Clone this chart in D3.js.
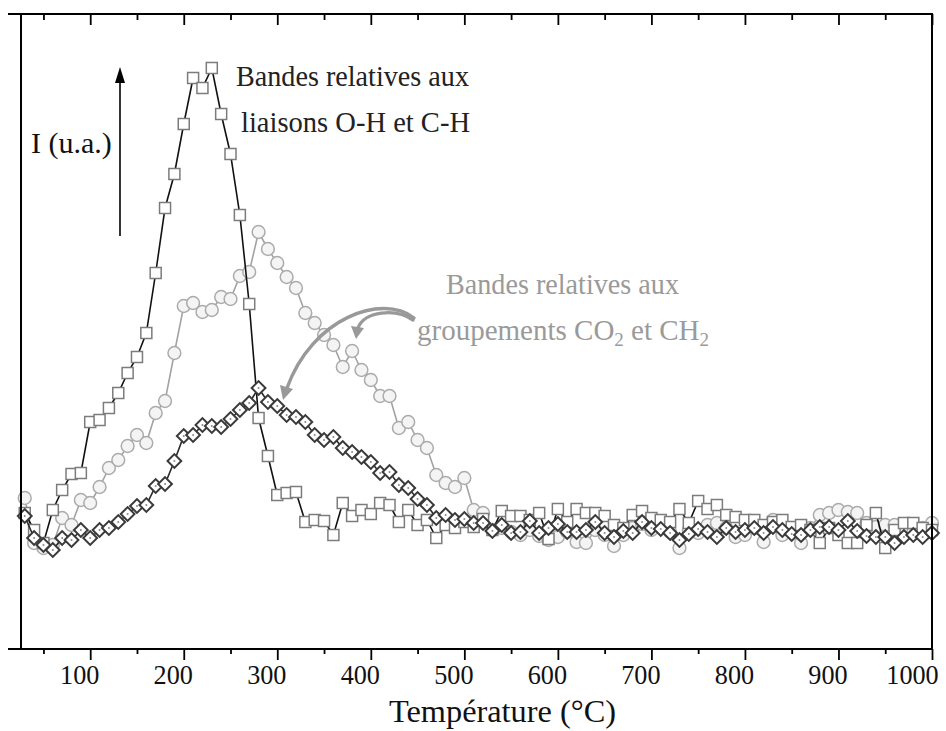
<!DOCTYPE html>
<html><head><meta charset="utf-8">
<script src="https://cdn.jsdelivr.net/npm/d3@7"></script>
<style>body{margin:0;background:#fff} svg{display:block}</style>
</head><body>
<svg id="c" width="946" height="731"></svg>
<script>
// ---- data ----
const temps = [30,40,50,60,70,80,90,100,110,120,130,140,150,160,170,180,190,200,210,220,230,240,250,260,270,280,290,300,310,320,330,340,350,360,370,380,390,400,410,420,430,440,450,460,470,480,490,500,510,520,530,540,550,560,570,580,590,600,610,620,630,640,650,660,670,680,690,700,710,720,730,740,750,760,770,780,790,800,810,820,830,840,850,860,870,880,890,900,910,920,930,940,950,960,970,980,990,1000];
// squares: bands O-H / C-H
const ohch = [27.2,23.8,21.2,27.8,31.8,35.0,35.2,45.4,45.8,48.2,51.2,55.2,58.4,63.2,75.2,88.2,95.0,105.0,114.2,112.2,116.2,107.0,99.0,86.8,69.0,46.2,38.6,30.8,31.2,31.4,25.4,25.8,25.6,22.8,29.2,26.6,27.8,27.0,29.2,28.8,25.4,27.8,24.8,25.8,22.2,24.8,24.2,25.4,24.4,26.0,23.8,27.6,26.6,26.6,25.8,27.2,22.0,28.0,25.4,28.0,27.2,27.2,26.6,24.8,24.2,26.8,27.6,26.2,25.8,25.4,28.0,25.2,29.6,28.0,28.8,26.8,26.4,25.8,25.8,24.8,25.4,25.8,24.4,24.8,23.8,21.2,24.2,22.8,21.2,21.2,24.8,27.2,20.2,23.8,25.2,25.2,24.2,23.8];
// circles: CO2
const co2 = [30.2,21.2,20.2,20.8,26.2,24.8,29.8,29.2,32.4,36.2,37.8,40.6,42.8,41.2,47.2,49.6,59.2,68.6,69.2,67.4,67.8,70.4,70.0,74.6,75.4,83.4,80.0,77.2,74.4,72.2,67.2,65.2,62.8,60.8,56.4,59.6,55.8,53.8,50.6,50.6,44.2,45.4,41.8,40.2,34.8,33.2,32.4,34.2,27.8,27.2,23.8,24.2,23.4,22.8,23.8,22.6,21.8,22.4,23.4,21.4,21.2,23.8,22.8,20.6,22.8,24.2,25.0,23.8,24.4,23.4,20.2,23.8,23.2,24.8,25.2,24.2,22.4,22.8,24.2,21.4,25.8,22.8,23.8,21.2,24.2,26.8,27.2,27.8,27.4,27.2,25.2,24.4,24.8,24.8,24.2,23.4,24.2,25.2];
// diamonds: CH2
const ch2 = [26.6,22.2,20.8,19.8,22.2,21.8,23.8,22.2,23.8,24.2,25.4,27.0,28.6,28.8,32.6,33.0,37.6,42.6,42.8,44.8,44.6,44.4,46.0,47.8,49.2,52.2,49.4,48.6,46.8,46.4,45.4,42.8,41.8,42.4,40.2,39.4,38.4,37.4,35.2,35.4,32.8,32.2,30.0,28.8,26.2,26.8,25.8,26.0,25.2,25.2,23.6,24.8,23.2,23.4,25.6,23.2,24.2,25.0,23.4,23.4,23.8,25.4,23.2,22.4,23.6,23.2,25.4,24.2,24.0,23.2,21.8,23.0,24.0,23.4,22.4,24.2,23.4,23.8,24.2,23.2,24.4,23.8,23.0,22.8,23.8,24.4,24.4,23.8,25.6,23.6,22.6,22.4,22.4,21.2,22.4,22.8,22.4,23.2];
const majorTicks = [100,200,300,400,500,600,700,800,900,1000];
const minorTicks = [50,150,250,350,450,550,650,750,850,950];
const xTitle = "Température (°C)";
const yTitle = "I (u.a.)";

// ---- chart ----
const svg = d3.select("#c");
const FONT = "'Liberation Serif','Times New Roman',serif";
const x = d3.scaleLinear().domain([26,1000]).range([21,932]);
const y = d3.scaleLinear().domain([0,127]).range([649,14]);

const mk = arr => temps.map((t,i)=>({t, v:arr[i]}));
const line = d3.line().x(d=>x(d.t)).y(d=>y(d.v));

// circles series
const g1 = svg.append("g");
g1.append("path").datum(mk(co2)).attr("d", line).attr("fill","none").attr("stroke","#a3a3a3").attr("stroke-width",1.6);
g1.selectAll("circle").data(mk(co2)).join("circle")
  .attr("cx",d=>x(d.t)).attr("cy",d=>y(d.v)).attr("r",6.4)
  .attr("fill","#f4f4f4").attr("stroke","#ababab").attr("stroke-width",1.5);

// squares series
const g2 = svg.append("g");
g2.append("path").datum(mk(ohch)).attr("d", line).attr("fill","none").attr("stroke","#111").attr("stroke-width",1.6);
g2.selectAll("rect").data(mk(ohch)).join("rect")
  .attr("x",d=>x(d.t)-5.5).attr("y",d=>y(d.v)-5.5).attr("width",11).attr("height",11)
  .attr("fill","#fff").attr("stroke","#7c7c7c").attr("stroke-width",1.5);

// diamonds series
const g3 = svg.append("g");
g3.append("path").datum(mk(ch2)).attr("d", line).attr("fill","none").attr("stroke","#2a2a2a").attr("stroke-width",1.6);
const dsym = d3.symbol().type(d3.symbolSquare).size(95);
g3.selectAll("path.dm").data(mk(ch2)).join("path").attr("class","dm")
  .attr("d", dsym)
  .attr("transform",d=>`translate(${x(d.t)},${y(d.v)}) rotate(45)`)
  .attr("fill","#fff").attr("stroke","#3a3a3a").attr("stroke-width",2);
g3.selectAll("circle.dot").data(mk(ch2)).join("circle").attr("class","dot")
  .attr("cx",d=>x(d.t)).attr("cy",d=>y(d.v)).attr("r",1).attr("fill","#8a8a8a");

// frame
const frame = svg.append("g").attr("stroke","#000").attr("stroke-width",2);
frame.append("line").attr("x1",21).attr("x2",21).attr("y1",14).attr("y2",649);
frame.append("line").attr("x1",932).attr("x2",932).attr("y1",14).attr("y2",649);
frame.append("line").attr("x1",8).attr("x2",933).attr("y1",14).attr("y2",14);
frame.append("line").attr("x1",8).attr("x2",933).attr("y1",649).attr("y2",649);

// axes
function styleAxis(g){ g.select(".domain").remove(); g.selectAll(".tick line").attr("stroke","#000").attr("stroke-width",1.8); }
const bot = svg.append("g").attr("transform","translate(0,649)")
  .call(d3.axisBottom(x).tickValues(majorTicks).tickSize(11).tickPadding(4).tickFormat(d3.format("d")));
styleAxis(bot);
bot.selectAll("text").attr("font-family",FONT).attr("font-size",28).attr("fill","#111")
  .attr("dx",d=>d===1000?-20:-11)
  .attr("textLength",d=>String(d).length*13.1).attr("lengthAdjust","spacingAndGlyphs");
svg.append("g").attr("transform","translate(0,649)")
  .call(d3.axisBottom(x).tickValues(minorTicks).tickSize(5).tickFormat("")).call(styleAxis);
svg.append("g").attr("transform","translate(0,14)")
  .call(d3.axisBottom(x).tickValues(majorTicks).tickSize(11).tickFormat("")).call(styleAxis);
svg.append("g").attr("transform","translate(0,14)")
  .call(d3.axisBottom(x).tickValues(minorTicks).tickSize(6).tickFormat("")).call(styleAxis);

// axis title
svg.append("text").attr("x",389).attr("y",722)
  .attr("textLength",227).attr("lengthAdjust","spacingAndGlyphs")
  .attr("font-family",FONT).attr("font-size",32).attr("fill","#111").text(xTitle);

// y label + arrow
svg.append("text").attr("x",31).attr("y",153).attr("font-family",FONT).attr("font-size",30).attr("fill","#111").text(yTitle);
svg.append("line").attr("x1",120).attr("x2",120).attr("y1",236).attr("y2",80).attr("stroke","#000").attr("stroke-width",1.6);
svg.append("path").attr("d","M120,67 L125,83 L115,83 Z").attr("fill","#000");

// black annotation
const ann1 = svg.append("g").attr("font-family",FONT).attr("font-size",29).attr("fill","#222");
ann1.append("text").attr("x",236).attr("y",86).attr("textLength",233).attr("lengthAdjust","spacingAndGlyphs").text("Bandes relatives aux");
ann1.append("text").attr("x",241).attr("y",132).attr("textLength",229).attr("lengthAdjust","spacingAndGlyphs").text("liaisons O-H et C-H");

// gray annotation
const ann2 = svg.append("g").attr("font-family",FONT).attr("font-size",29).attr("fill","#9a9a9a");
ann2.append("text").attr("x",446).attr("y",294).attr("textLength",233).attr("lengthAdjust","spacingAndGlyphs").text("Bandes relatives aux");
const t2 = ann2.append("text").attr("x",417).attr("y",340);
t2.append("tspan").text("groupements CO");
t2.append("tspan").attr("font-size",19).attr("dy",6).text("2");
t2.append("tspan").attr("dy",-6).text(" et CH");
t2.append("tspan").attr("font-size",19).attr("dy",6).text("2");

// gray curved arrows
const arr = svg.append("g").attr("fill","none").attr("stroke","#999").attr("stroke-width",3.4).attr("stroke-linecap","round");
arr.append("path").attr("d","M414,318 C382,293 312,318 287,388");
arr.append("path").attr("d","M413,320 C396,308 364,311 358,328");
svg.append("path").attr("d","M283,400 L280,385 L293,389 Z").attr("fill","#999");
svg.append("path").attr("d","M356,339 L351,326 L364,328 Z").attr("fill","#999");
</script>
</body></html>
